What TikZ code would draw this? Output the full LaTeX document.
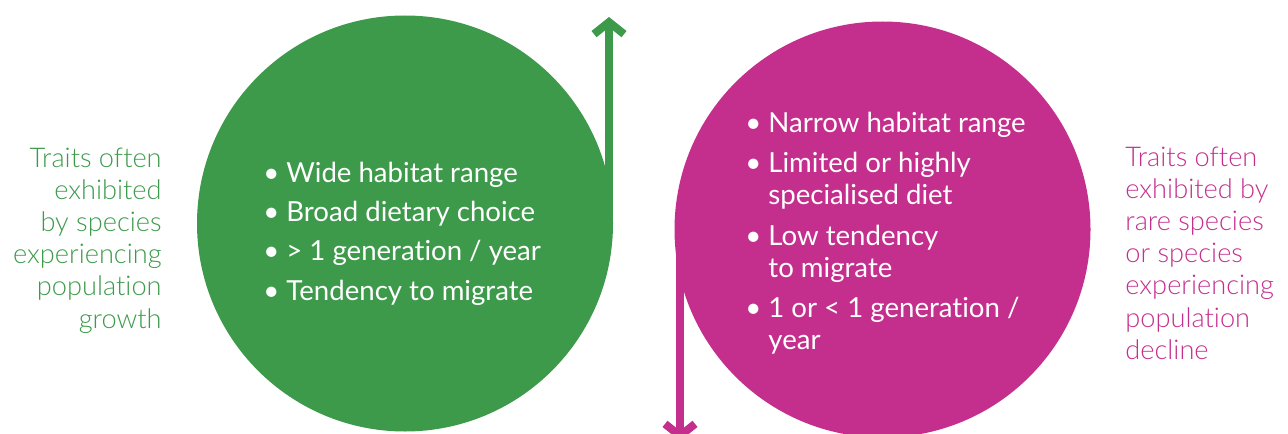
\documentclass[tikz,border=0pt]{standalone}
\usepackage{fontspec}
\setmainfont{Lato}[Ligatures=NoCommon]
\newfontfamily\lightfont{Lato Light}[Ligatures=NoCommon]
\usepackage{xcolor}
\usetikzlibrary{arrows.meta,positioning}
\definecolor{growthgreen}{RGB}{61,154,75}
\definecolor{declinepink}{RGB}{196,47,142}
\tikzset{
	blob/.style={circle,inner sep=0pt,minimum size=208pt},
	trend/.style={line width=4pt,-{Straight Barb[length=6pt,width=15pt]}},
	traitlist/.style={anchor=base west,inner sep=0pt,text=white,font=\fontsize{13.8}{16}\selectfont},
	sidenote/.style={inner sep=0pt,font=\lightfont\fontsize{13.6}{16.1}\selectfont}
}
\begin{document}
\begin{tikzpicture}[x=0.5pt,y=-0.5pt]
	\useasboundingbox (0,0) rectangle (1288,433);
	% circles
	\node[blob,fill=growthgreen] (growth) at (405,223.5) {};
	\node[blob,fill=declinepink] (decline) at (882.5,229.5) {};
	% arrows
	\coordinate (up start) at (609,223.5);
	\coordinate (up end) at (609,17);
	\coordinate (down start) at (680,229.5);
	\coordinate (down end) at (680,441);
	\draw[trend,growthgreen] (up start) -- (up end);
	\draw[trend,declinepink] (down start) -- (down end);
	% lists
	\node[traitlist] (wide) at (263,182) {\begin{tabular}[t]{@{}p{11.5pt}@{}l@{}}
		\textbullet & Wide habitat range\\[3.7pt]
		\textbullet & Broad dietary choice\\[3.7pt]
		\textbullet & > 1 generation / year\\[3.7pt]
		\textbullet & Tendency to migrate
	\end{tabular}};
	\node[traitlist] (narrow) at (745,133) {\begin{tabular}[t]{@{}p{11.5pt}@{}l@{}}
		\textbullet & Narrow habitat range\\[4pt]
		\textbullet & Limited or highly\\
		& specialised diet\\[4pt]
		\textbullet & Low tendency\\
		& to migrate\\[4pt]
		\textbullet & 1 or < 1 generation /\\
		& year
	\end{tabular}};
	% side notes
	\node[sidenote,anchor=base east,text=growthgreen] (grow note) at (162,167) {\begin{tabular}[t]{@{}r@{}}
		Traits often\\ exhibited\\ by species\\ experiencing\\ population\\ growth
	\end{tabular}};
	\node[sidenote,anchor=base west,text=declinepink] (rare note) at (1125,166) {\begin{tabular}[t]{@{}l@{}}
		Traits often\\ exhibited by\\ rare species\\ or species\\ experiencing\\ population\\ decline
	\end{tabular}};
\end{tikzpicture}
\end{document}
